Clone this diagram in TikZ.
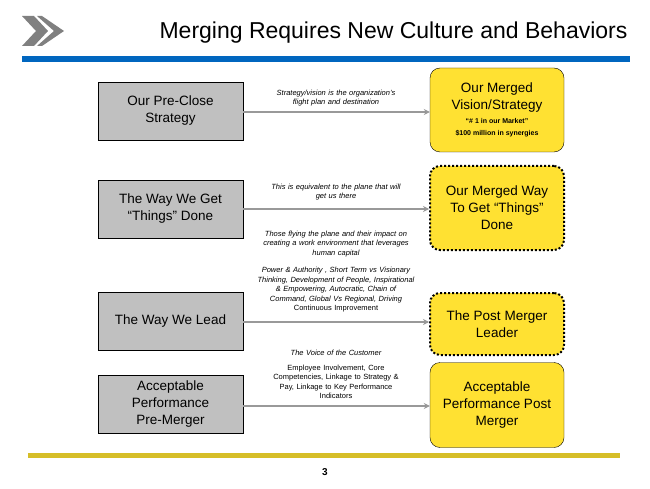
\documentclass[tikz,border=0pt]{standalone}
\usepackage{fontspec}
\setmainfont{Liberation Sans}
\usetikzlibrary{arrows.meta}
\definecolor{myblue}{RGB}{0,102,191}
\definecolor{mygold}{RGB}{214,190,40}
\definecolor{myyellow}{RGB}{255,225,50}
\definecolor{mygray}{RGB}{192,192,192}
\begin{document}
\begin{tikzpicture}[x=1pt,y=-1pt,
  lbox/.style={draw=black,fill=mygray,minimum width=145pt,minimum height=58pt,align=center,font=\fontsize{13.5}{17}\selectfont},
  rbox/.style={draw=black,fill=myyellow,rounded corners=10pt,minimum width=134pt,align=center,font=\fontsize{13.5}{17}\selectfont},
  dotbox/.style={rbox,draw=black,line width=2pt,dotted},
  conn/.style={draw=gray!80,line width=2pt,-{Stealth[length=6pt,width=6pt,fill=black]}},
  note/.style={font=\fontsize{7.5}{9.5}\selectfont\itshape,align=center,text width=170pt}]
\useasboundingbox (0,0) rectangle (650,489);
\fill[white] (0,0) rectangle (650,489);
% logo
\fill[gray] (22,16)--(34,16)--(48,31)--(34,46)--(22,46)--(36,31)--cycle;
\fill[gray] (37,16)--(42,16)--(64,31)--(42,46)--(37,46)--(54,31)--cycle;
\node[font=\fontsize{23}{27}\selectfont,anchor=east] (title) at (631,33) {Merging Requires New Culture and Behaviors};
\fill[myblue] (22,56) rectangle (630,62);
\fill[mygold] (28,453) rectangle (620,458);
\node[font=\bfseries\fontsize{10}{12}\selectfont] (pg) at (325,472) {3};
% left
\node[lbox] (l1) at (170.5,111) {Our Pre-Close\\Strategy};
\node[lbox] (l2) at (170.5,209) {The Way We Get\\“Things” Done};
\node[lbox] (l3) at (170.5,321) {The Way We Lead};
\node[lbox] (l4) at (170.5,404) {Acceptable\\Performance\\Pre-Merger};
% right
\node[rbox,minimum height=84pt] (r1) at (497,110) {Our Merged\\Vision/Strategy\\[-3pt]{\bfseries\fontsize{7}{8}\selectfont “\# 1 in our Market”}\\[-5pt]{\bfseries\fontsize{7}{8}\selectfont \$100 million in synergies}};
\node[dotbox,minimum height=84pt] (r2) at (497,208) {Our Merged Way\\To Get “Things”\\Done};
\node[dotbox,minimum height=62pt] (r3) at (497,324) {The Post Merger\\Leader};
\node[rbox,minimum height=85pt] (r4) at (497,405) {Acceptable\\Performance Post\\Merger};
\draw[conn] (l1.east |- 0,112) -- (r1.west |- 0,112);
\draw[conn] (l2.east |- 0,209) -- (r2.west |- 0,209);
\draw[conn] (l3.east |- 0,322) -- (r3.west |- 0,322);
\draw[conn] (l4.east |- 0,406) -- (r4.west |- 0,406);
% notes
\node[note] (n1) at (336,98) {Strategy/vision is the organization's\\flight plan and destination};
\node[note] (n2) at (336,192) {This is equivalent to the plane that will\\get us there};
\node[note] (n3) at (336,244) {Those flying the plane and their impact on\\creating a work environment that leverages\\human capital};
\node[note] (n4) at (336,290) {Power \& Authority , Short Term vs Visionary\\Thinking, Development of People, Inspirational\\\& Empowering, Autocratic, Chain of\\Command, Global Vs Regional, Driving\\{\upshape Continuous Improvement}};
\node[note] (n5) at (336,353) {The Voice of the Customer};
\node[note,font=\fontsize{7.5}{9.5}\selectfont] (n6) at (336,382) {Employee Involvement, Core\\Competencies, Linkage to Strategy \&\\Pay, Linkage to Key Performance\\Indicators};
\end{tikzpicture}
\end{document}
